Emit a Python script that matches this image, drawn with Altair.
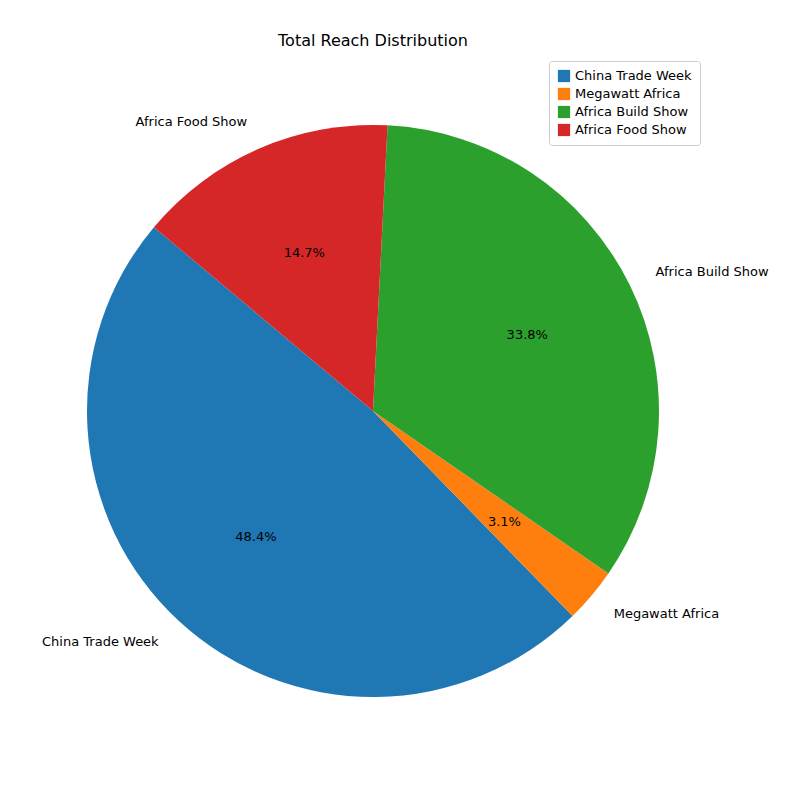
import altair as alt
import pandas as pd
import math

events = ['China Trade Week', 'Megawatt Africa', 'Africa Build Show', 'Africa Food Show']
share = [48.4, 3.1, 33.8, 14.7]
# clockwise drawing order (matplotlib draws counterclockwise from 140 deg)
draw_order = [3, 2, 1, 0]
side = ['left', 'right', 'right', 'left']
colors = ['#1f77b4', '#ff7f0e', '#2ca02c', '#d62728']

df = pd.DataFrame({'event': events, 'share': share, 'ord': draw_order, 'side': side})
df['pct'] = df['share'].map(lambda v: f'{v:.1f}%')

start = math.radians(310)
theta_scale = alt.Scale(range=[start, start + 2 * math.pi])
font = 'DejaVu Sans'

base = alt.Chart(df).encode(
    theta=alt.Theta('share:Q', stack=True, scale=theta_scale),
    order=alt.Order('ord:Q'),
)

pie = base.mark_arc(outerRadius=286).encode(
    color=alt.Color('event:N', scale=alt.Scale(domain=events, range=colors),
                    sort=events,
                    legend=alt.Legend(title=None, orient='none', legendX=536, legendY=2,
                                      symbolType='square', symbolSize=150,
                                      labelFont=font, labelFontSize=13,
                                      strokeColor='#cccccc', padding=8, cornerRadius=3,
                                      fillColor='white', rowPadding=4))
)

pct = base.mark_text(radius=172, font=font, fontSize=13, color='black').encode(text='pct:N')

right_lbl = base.mark_text(radius=315, align='left', font=font, fontSize=13).transform_calculate(
    t="datum.side == 'right' ? datum.event : ''").encode(text='t:N')
left_lbl = base.mark_text(radius=315, align='right', font=font, fontSize=13).transform_calculate(
    t="datum.side == 'left' ? datum.event : ''").encode(text='t:N')

chart = alt.layer(pie, pct, right_lbl, left_lbl).properties(
    width=720, height=704,
    padding={'top': 25, 'left': 5, 'right': 5, 'bottom': 5},
    title=alt.Title('Total Reach Distribution', font=font, fontSize=16,
                    fontWeight='normal', offset=10, anchor='middle'),
).configure_view(stroke=None)

chart.save("out.html", embed_options={"renderer": "svg", "actions": False})
